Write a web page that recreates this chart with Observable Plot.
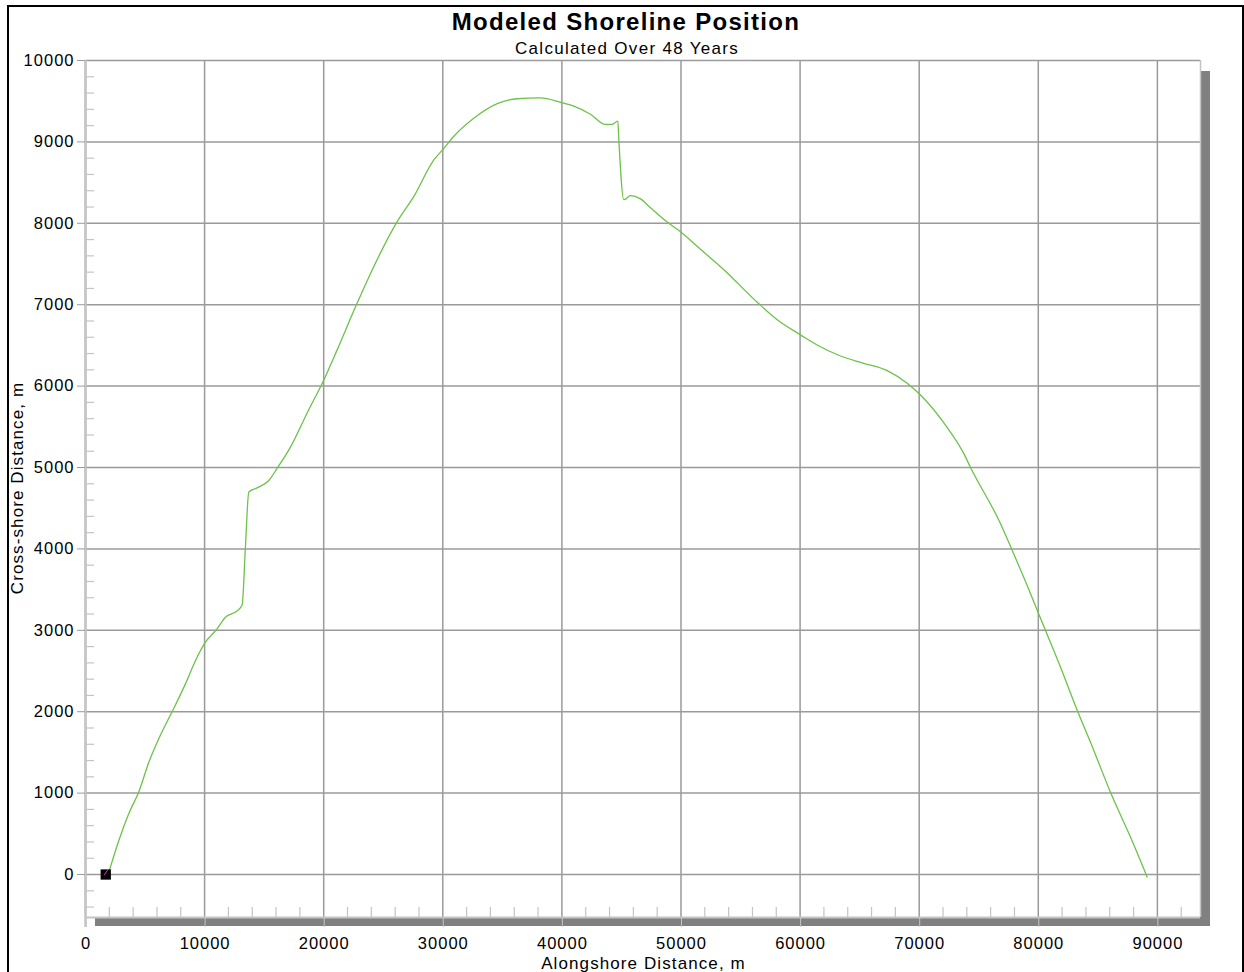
<!DOCTYPE html>
<html>
<head>
<meta charset="utf-8">
<script src="https://cdn.jsdelivr.net/npm/d3@7"></script>
<script src="https://cdn.jsdelivr.net/npm/@observablehq/plot@0.6"></script>
<style>
  html, body { margin: 0; padding: 0; background: #fff; overflow: hidden; }
  #wrap { position: relative; width: 1244px; height: 972px; }
  #border { position: absolute; left: 7px; top: 5px; width: 1237px; height: 1000px; border: 2.5px solid #000; box-sizing: border-box; }
  .shadow { position: absolute; background: #808080; }
  #chart { position: absolute; left: 0; top: 0; }
</style>
</head>
<body>
<div id="wrap">
  <div id="border"></div>
  <div class="shadow" style="left:95px; top:917px; width:1115px; height:9px;"></div>
  <div class="shadow" style="left:1200px; top:71px; width:10px; height:855px;"></div>
  <div id="chart"></div>
</div>
<script>
// ---- Data ----
const alongshore = [1900, 2800, 3640, 4480, 5320, 6220, 7340, 8400, 9240, 10000, 11060, 11750, 12740, 13150, 13430, 13710, 14410, 15390, 16090, 17210, 18610, 20010, 21130, 22810, 24210, 26170, 27570, 29250, 30000, 30930, 32600, 34570, 36250, 38200, 39880, 41000, 42400, 43660, 44220, 44700, 44780, 45200, 45760, 46600, 47440, 48840, 50010, 51640, 53600, 56400, 58080, 60030, 61430, 63390, 65350, 67310, 68990, 70110, 72210, 73750, 74310, 76830, 77670, 79350, 80040, 81860, 83260, 84660, 86060, 87740, 89140];
const crossShore = [0, 418, 750, 1017, 1380, 1690, 2020, 2345, 2630, 2840, 3020, 3160, 3240, 3310, 4030, 4700, 4750, 4840, 4990, 5250, 5670, 6075, 6445, 7020, 7470, 8020, 8330, 8780, 8905, 9070, 9290, 9470, 9530, 9540, 9487, 9440, 9340, 9215, 9215, 9255, 9030, 8290, 8340, 8300, 8190, 8015, 7890, 7680, 7430, 7030, 6815, 6630, 6505, 6370, 6280, 6190, 6035, 5890, 5520, 5170, 5000, 4310, 4030, 3450, 3200, 2550, 2020, 1525, 1010, 460, -30];
const markerX = [1700];
const markerY = [0];
const initX = [1600, 1880];
const initY = [0, 60];
const xTickLabels = [0, 10000, 20000, 30000, 40000, 50000, 60000, 70000, 80000, 90000];
const yTickLabels = [0, 1000, 2000, 3000, 4000, 5000, 6000, 7000, 8000, 9000, 10000];
const xDomain = [0, 93620];
const yDomain = [-528, 10000];
const titleText = "Modeled Shoreline Position";
const subtitleText = "Calculated Over 48 Years";
const xLabel = "Alongshore Distance, m";
const yLabel = "Cross-shore Distance, m";

const shoreline = alongshore.map((x, i) => ({x, y: crossShore[i]}));
const marker = markerX.map((x, i) => ({x, y: markerY[i]}));
const initial = initX.map((x, i) => ({x, y: initY[i]}));
const xMinor = d3.range(2000, 93000, 2000).filter(v => v % 10000 !== 0);
const yMinor = d3.range(-400, 10000, 200).filter(v => v % 1000 !== 0);

const font = "'Liberation Sans', Arial, sans-serif";
const gridColor = "#9a9a9a";
const axisColor = "#c4c4c4";

const chart = Plot.plot({
  width: 1244,
  height: 972,
  marginLeft: 85,
  marginRight: 44,
  marginTop: 60,
  marginBottom: 55,
  style: {fontFamily: font, fontSize: "17px", background: "transparent", overflow: "visible", color: "#000"},
  x: {domain: xDomain},
  y: {domain: yDomain},
  marks: [
    Plot.gridX(xTickLabels, {stroke: gridColor, strokeOpacity: 1, strokeWidth: 1.5}),
    Plot.gridY(yTickLabels, {stroke: gridColor, strokeOpacity: 1, strokeWidth: 1.5}),
    Plot.ruleX([xDomain[1]], {stroke: axisColor, strokeWidth: 1.5}),
    // minor ticks
    Plot.ruleX(xMinor, {y1: yDomain[0], y2: yDomain[0], insetBottom: 10, stroke: axisColor, strokeWidth: 1.2}),
    Plot.ruleY(yMinor, {x1: xDomain[0], x2: xDomain[0], insetRight: -9, stroke: axisColor, strokeWidth: 1.2}),
    // axis lines
    Plot.ruleY([yDomain[0]], {stroke: axisColor, strokeWidth: 2}),
    Plot.ruleX([xDomain[0]], {stroke: axisColor, strokeWidth: 2.5, insetBottom: -10}),
    // major ticks and labels
    Plot.axisX(xTickLabels, {anchor: "bottom", tickSize: 10, tickPadding: 10, tickFormat: d => String(d), stroke: axisColor, fill: "#000", label: null, fontSize: 16.5, dx: 0.5}),
    Plot.axisY(yTickLabels, {anchor: "left", tickSize: 8, tickPadding: 3, tickFormat: d => String(d), stroke: gridColor, fill: "#000", label: null, fontSize: 16.5}),
    // data
    Plot.line(shoreline, {x: "x", y: "y", stroke: "#6cc24a", strokeWidth: 1.3, curve: "monotone-x"}),
    Plot.dot(marker, {x: "x", y: "y", symbol: "square", r: 5.8, fill: "#000", stroke: "none"}),
    Plot.line(initial, {x: "x", y: "y", stroke: "#d040c0", strokeWidth: 1}),
    // texts
    Plot.text([titleText], {frameAnchor: "top", dx: -17, dy: -38, fontSize: 24, fontWeight: "bold", fill: "#000", lineAnchor: "middle", textAnchor: "middle"}),
    Plot.text([subtitleText], {frameAnchor: "top", dx: -16, dy: -12, fontSize: 17, fill: "#000", lineAnchor: "middle", textAnchor: "middle"}),
    Plot.text([xLabel], {frameAnchor: "bottom", dx: 0.5, dy: 46, fontSize: 17, fill: "#000", lineAnchor: "middle", textAnchor: "middle"}),
    Plot.text([yLabel], {frameAnchor: "left", dx: -68, dy: -1, rotate: -90, fontSize: 17, fill: "#000", lineAnchor: "middle", textAnchor: "middle"})
  ]
});
const svg = d3.select(chart);
svg.selectAll("g[aria-label='x-axis tick label'] text, g[aria-label='y-axis tick label'] text").style("letter-spacing", "1px");
const spacing = new Map([[titleText, "1.3px"], [subtitleText, "1.3px"], [xLabel, "1.1px"], [yLabel, "1.1px"]]);
svg.selectAll("text").each(function() {
  const s = spacing.get(this.textContent);
  if (s) this.style.letterSpacing = s;
});
document.getElementById("chart").appendChild(chart);
</script>
</body>
</html>
